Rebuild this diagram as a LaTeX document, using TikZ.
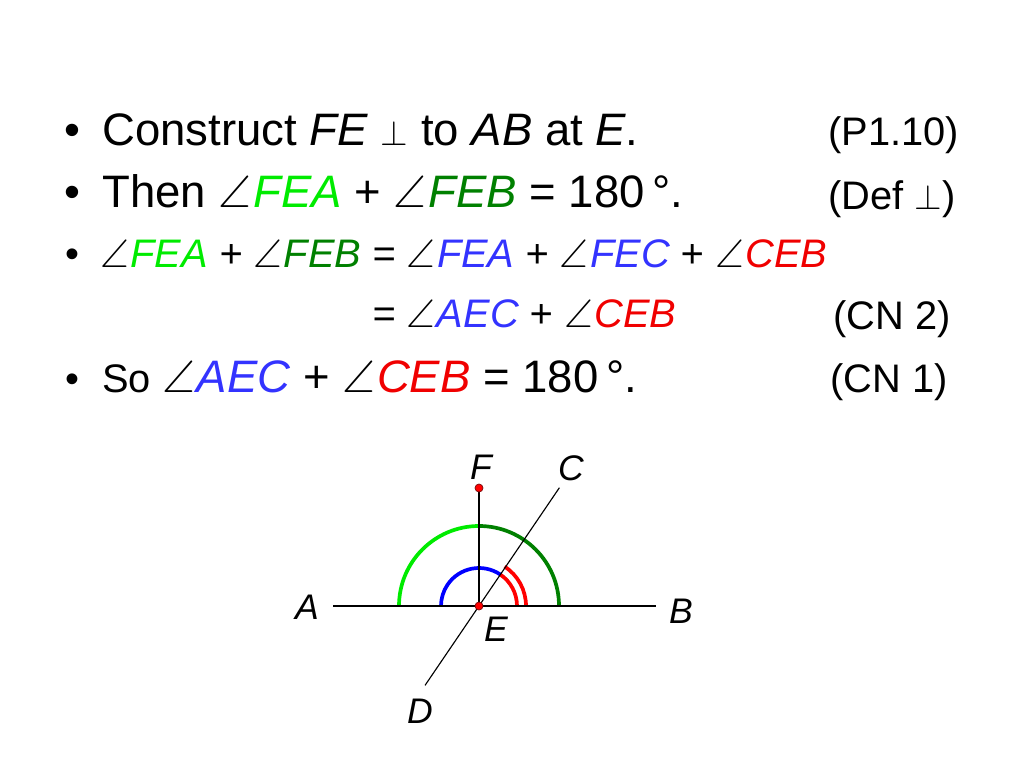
\documentclass[tikz,border=0pt]{standalone}
\usepackage{amssymb,amsmath}
\usepackage{fontspec}
\setmainfont{Liberation Sans}
\usepackage{tikz}
\definecolor{lgreen}{RGB}{0,235,0}
\definecolor{dgreen}{RGB}{0,128,0}
\definecolor{tblue}{RGB}{51,51,255}
\definecolor{tred}{RGB}{240,0,0}
\definecolor{dotred}{RGB}{200,20,20}
\tikzset{
  txt/.style={anchor=base west,inner sep=0pt},
  bul/.style={anchor=base,inner sep=0pt},
  lbl/.style={inner sep=0pt,font=\fontsize{25}{30}\selectfont\itshape},
  arcline/.style={line width=2.6pt},
  pt/.style={fill=red,draw=dotred!60!black,line width=0.5pt}
}
\newcommand{\bigtxt}{\fontsize{32}{38}\selectfont}
\newcommand{\midtxt}{\fontsize{28}{34}\selectfont}
\newcommand{\angsym}{$\angle$\kern0.04em}
\begin{document}
\begin{tikzpicture}[x=0.703125pt,y=0.703125pt,yscale=-1,xscale=1]
\useasboundingbox (0,0) rectangle (1024,768);

% Bullets
\node[bul] (b1) at (72,146) {\bigtxt •};
\node[bul] (b2) at (72,208) {\bigtxt •};
\node[bul] (b3) at (72,268) {\midtxt •};
\node[bul] (b5) at (72,392) {\midtxt •};

% Text Node
\node[txt] (l1) at (102,146) {\bigtxt Construct \textit{FE} $\perp$ to \textit{AB} at \textit{E}.};
% Text Node
\node[txt] (r1) at (828,146) {\midtxt (P1.10)};
% Text Node
\node[txt] (l2) at (102,208) {\bigtxt Then \angsym\textcolor{lgreen}{\textit{FEA}} + \angsym\textcolor{dgreen}{\textit{FEB}} = 180\,°.};
% Text Node
\node[txt] (r2) at (828,210) {\midtxt (Def $\perp$)};
% Text Node
\node[txt] (l3) at (100,268) {\midtxt\itshape \angsym\textcolor{lgreen}{FEA} + \angsym\textcolor{dgreen}{FEB} = \angsym\textcolor{tblue}{FEA} + \angsym\textcolor{tblue}{FEC} + \angsym\textcolor{tred}{CEB}};
% Text Node
\node[txt] (l4) at (372,327) {\midtxt\itshape = \angsym\textcolor{tblue}{AEC} + \angsym\textcolor{tred}{CEB}};
% Text Node
\node[txt] (r4) at (833,330) {\midtxt (CN 2)};
% Text Node
\node[txt] (l5) at (102,392) {\midtxt So \bigtxt\angsym\textcolor{tblue}{\textit{AEC}} + \angsym\textcolor{tred}{\textit{CEB}} = 180\,°.};
% Text Node
\node[txt] (r5) at (830,392) {\midtxt (CN 1)};

% Points
\coordinate (E) at (479,606);
\coordinate (F) at (479,488);
\coordinate (A) at (333,606);
\coordinate (B) at (656,606);
\coordinate (C) at (559.4,487.7);
\coordinate (D) at (425,685.4);

%Arcs
\draw [arcline,color=lgreen] ([shift={(-90:80)}]E) arc (-90:-180:80);
\draw [arcline,color=dgreen] ([shift={(0:80)}]E) arc (0:-90:80);
\draw [arcline,color=blue] ([shift={(-55.8:38)}]E) arc (-55.8:-180:38);
\draw [arcline,color=red] ([shift={(0:38)}]E) arc (0:-55.8:38);
\draw [arcline,color=red] ([shift={(0:47)}]E) arc (0:-57:47);

%Straight Lines
\draw [line width=0.8pt] (A) -- (B);
\draw [line width=0.8pt] (E) -- (F);
\draw [line width=0.8pt] (D) -- (C);

%Shape: Circle
\draw [pt] (F) circle (4);
\draw [pt] (E) circle (4);

% Labels
\node[lbl] (lF) at (481,467) {F};
\node[lbl] (lC) at (571,468) {C};
\node[lbl] (lA) at (307,607) {A};
\node[lbl] (lB) at (681,611) {B};
\node[lbl] (lE) at (496,629) {E};
\node[lbl] (lD) at (420,711) {D};

\end{tikzpicture}
\end{document}
